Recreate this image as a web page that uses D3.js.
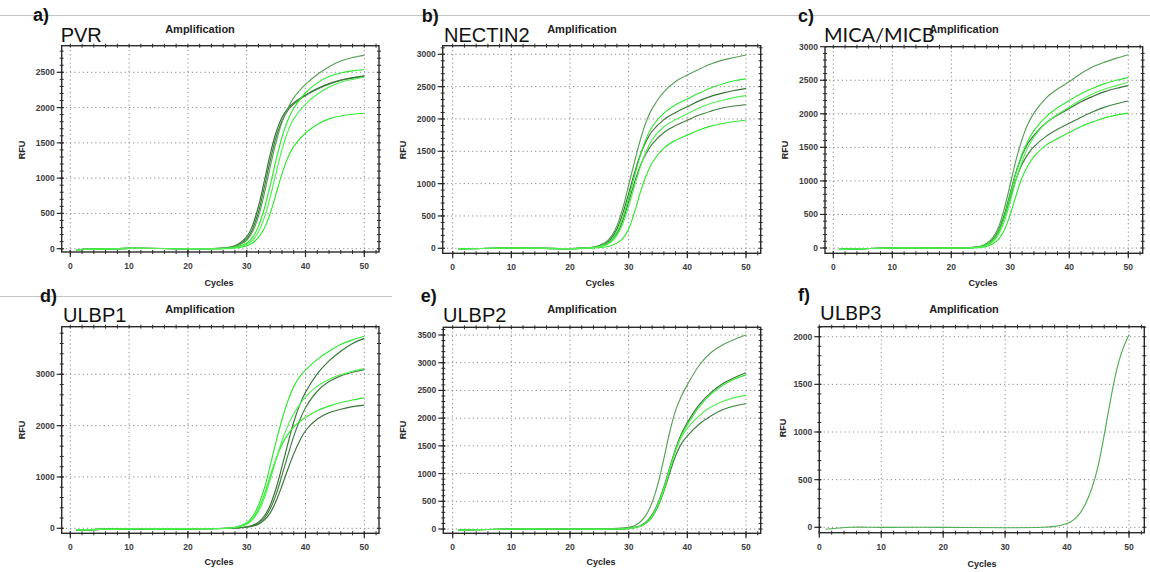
<!DOCTYPE html>
<html lang="en">
<head>
<meta charset="UTF-8"/>
<title>Amplification curves</title>
<script src="https://d3js.org/d3.v7.min.js"></script>
<style>
  body { margin: 0; background: #fff; }
  svg text { font-family: "Liberation Sans", Arial, sans-serif; }
</style>
</head>
<body>
<script>
    // ---- data (RFU per cycle) ----
    var pvrCycles = [1, 10, 20, 26, 28, 30, 31, 32, 33, 34, 35, 36, 37, 38, 40, 42, 44, 46, 48, 50];
    var pvrSeries = [
        [-15, 5, 0, 10, 40, 170, 330, 600, 960, 1340, 1650, 1860, 1990, 2070, 2180, 2270, 2340, 2390, 2425, 2450],
        [-15, 5, 0, 5, 30, 120, 240, 460, 780, 1160, 1510, 1790, 1990, 2140, 2330, 2470, 2580, 2660, 2710, 2740],
        [-15, 5, 0, 5, 20, 80, 160, 320, 570, 900, 1260, 1580, 1820, 1990, 2210, 2350, 2440, 2490, 2520, 2540],
        [-15, 5, 0, 5, 15, 60, 120, 240, 440, 730, 1070, 1400, 1660, 1840, 2050, 2190, 2290, 2360, 2400, 2430],
        [-15, 5, 0, 0, 10, 40, 80, 160, 290, 500, 780, 1060, 1290, 1450, 1640, 1760, 1840, 1880, 1905, 1920],
        [-15, 5, 0, 10, 35, 140, 280, 520, 870, 1250, 1580, 1810, 1960, 2050, 2170, 2260, 2330, 2385, 2415, 2440]
    ];

    var nectinCycles = [1, 10, 20, 22, 24, 26, 27, 28, 29, 30, 31, 32, 33, 34, 36, 38, 40, 42, 44, 46, 48, 50];
    var nectinSeries = [
        [-10, 5, -5, 5, 20, 90, 180, 350, 620, 980, 1340, 1680, 1960, 2160, 2420, 2580, 2680, 2770, 2850, 2910, 2950, 2990],
        [-10, 5, -5, 0, 10, 60, 120, 250, 470, 780, 1120, 1440, 1700, 1880, 2090, 2220, 2310, 2400, 2480, 2540, 2590, 2620],
        [-10, 5, -5, 0, 15, 70, 150, 300, 540, 850, 1170, 1450, 1660, 1810, 1990, 2100, 2190, 2280, 2350, 2400, 2440, 2470],
        [-10, 5, -5, 0, 10, 45, 95, 200, 380, 650, 960, 1260, 1500, 1680, 1880, 1990, 2080, 2170, 2240, 2290, 2330, 2360],
        [-10, 5, -5, 0, 10, 55, 110, 230, 430, 720, 1020, 1280, 1470, 1610, 1790, 1900, 1980, 2060, 2120, 2170, 2200, 2220],
        [-10, 5, -5, 0, 5, 20, 40, 80, 150, 300, 560, 870, 1130, 1320, 1550, 1670, 1750, 1830, 1890, 1930, 1960, 1980]
    ];

    var micCycles = [1, 10, 20, 22, 24, 25, 26, 27, 28, 29, 30, 31, 32, 33, 34, 36, 38, 40, 42, 44, 46, 48, 50];
    var micSeries = [
        [-20, 0, 0, 5, 15, 30, 70, 150, 310, 590, 950, 1320, 1620, 1850, 2010, 2230, 2370, 2480, 2600, 2700, 2770, 2830, 2880],
        [-20, 0, 0, 0, 10, 20, 50, 110, 240, 470, 800, 1130, 1400, 1600, 1750, 1950, 2090, 2200, 2300, 2380, 2450, 2500, 2540],
        [-20, 0, 0, 0, 5, 15, 40, 90, 200, 400, 700, 1020, 1290, 1500, 1650, 1860, 1990, 2100, 2210, 2300, 2370, 2420, 2470],
        [-20, 0, 0, 0, 10, 20, 50, 120, 260, 500, 820, 1140, 1380, 1560, 1680, 1860, 1980, 2080, 2180, 2260, 2330, 2380, 2420],
        [-20, 0, 0, 0, 10, 20, 45, 110, 240, 460, 750, 1030, 1250, 1400, 1510, 1660, 1770, 1860, 1950, 2030, 2100, 2150, 2190],
        [-20, 0, 0, 0, 5, 10, 25, 60, 130, 270, 500, 790, 1050, 1230, 1360, 1530, 1630, 1720, 1810, 1880, 1940, 1980, 2010]
    ];

    var ulbp1Cycles = [1, 10, 20, 28, 30, 31, 32, 33, 34, 35, 36, 37, 38, 39, 40, 42, 44, 46, 48, 50];
    var ulbp1Series = [
        [-30, -10, -10, 20, 110, 230, 450, 780, 1220, 1690, 2120, 2480, 2760, 2950, 3080, 3290, 3450, 3580, 3670, 3740],
        [-30, -10, -10, 5, 30, 60, 120, 240, 450, 780, 1200, 1650, 2070, 2400, 2650, 3010, 3260, 3450, 3600, 3700],
        [-30, -10, -10, 15, 80, 170, 330, 590, 950, 1340, 1700, 2000, 2230, 2410, 2560, 2770, 2900, 2990, 3060, 3110],
        [-30, -10, -10, 5, 25, 50, 100, 200, 380, 660, 1030, 1420, 1790, 2100, 2350, 2670, 2860, 2970, 3040, 3090],
        [-30, -10, -10, 15, 90, 190, 380, 660, 1020, 1360, 1630, 1830, 1970, 2080, 2160, 2290, 2380, 2450, 2500, 2540],
        [-30, -10, -10, 5, 20, 40, 80, 160, 300, 530, 830, 1150, 1450, 1700, 1900, 2130, 2250, 2320, 2370, 2400]
    ];

    var ulbp2Cycles = [1, 10, 20, 28, 30, 31, 32, 33, 34, 35, 36, 37, 38, 39, 40, 42, 44, 46, 48, 50];
    var ulbp2Series = [
        [-20, 0, 0, 10, 30, 60, 130, 260, 480, 820, 1270, 1750, 2140, 2400, 2600, 2950, 3180, 3320, 3420, 3500],
        [-20, 0, 0, 0, 10, 30, 60, 130, 260, 470, 760, 1110, 1450, 1720, 1920, 2240, 2460, 2620, 2730, 2820],
        [-20, 0, 0, 0, 10, 25, 50, 110, 220, 420, 700, 1060, 1410, 1690, 1880, 2200, 2430, 2590, 2700, 2780],
        [-20, 0, 0, 0, 10, 25, 55, 120, 240, 450, 740, 1090, 1420, 1660, 1820, 2040, 2200, 2300, 2370, 2410],
        [-20, 0, 0, 0, 10, 25, 50, 110, 220, 410, 680, 1010, 1320, 1540, 1680, 1890, 2040, 2150, 2220, 2260]
    ];

    var ulbp3Cycles = [1, 5, 10, 20, 30, 36, 38, 40, 41, 42, 43, 44, 45, 46, 47, 48, 49, 50];
    var ulbp3Series = [
        [-20, 0, 0, 0, -5, 0, 10, 40, 75, 140, 250, 410, 640, 970, 1330, 1650, 1870, 2020]
    ];

    // tick values
    var xTickValues = [0, 10, 20, 30, 40, 50];
    var pvrTicks = [0, 500, 1000, 1500, 2000, 2500];
    var nectinTicks = [0, 500, 1000, 1500, 2000, 2500, 3000];
    var micTicks = [0, 500, 1000, 1500, 2000, 2500, 3000];
    var ulbp1Ticks = [0, 1000, 2000, 3000];
    var ulbp2Ticks = [0, 500, 1000, 1500, 2000, 2500, 3000, 3500];
    var ulbp3Ticks = [0, 500, 1000, 1500, 2000];

    // ---- styles ----
    var dark = "#367336", dark2 = "#3f7f3f", mid = "#589f58", bright = "#30e830", bright2 = "#50f050";
    var pvrColors = [dark, mid, bright, bright2, bright, dark2];
    var nectinColors = [mid, bright, dark, bright2, dark2, bright];
    var micColors = [mid, bright, bright2, dark, dark2, bright];
    var ulbp1Colors = [bright, dark, bright2, dark2, bright, dark];
    var ulbp2Colors = [mid, dark, bright, bright2, dark2];
    var ulbp3Colors = ["#4caf50"];

    var panels = [
        {tag: "a)", gene: "PVR", cycles: pvrCycles, series: pvrSeries, colors: pvrColors, yTicks: pvrTicks,
         box: [61.7, 45.7, 379, 252], xPx: [70.3, 364.3], yPx: [248.7, 72.3], yRef: 2500,
         tagAt: [33, 21], geneAt: [60.7, 42.3], titleAt: [200, 33], rfuAt: [22, 150], cycAt: [219, 286]},
        {tag: "b)", gene: "NECTIN2", cycles: nectinCycles, series: nectinSeries, colors: nectinColors, yTicks: nectinTicks,
         box: [442.7, 45.7, 760.7, 253.3], xPx: [452.7, 746], yPx: [248.3, 54.3], yRef: 3000,
         tagAt: [421.7, 22], geneAt: [444, 42], titleAt: [582, 33], rfuAt: [403.3, 150], cycAt: [600, 286]},
        {tag: "c)", gene: "MICA/MICB", cycles: micCycles, series: micSeries, colors: micColors, yTicks: micTicks, alt: true,
         box: [825, 46.7, 1142.7, 253.3], xPx: [833.3, 1128.3], yPx: [248, 46.7], yRef: 3000,
         tagAt: [798, 22], geneAt: [824, 41.7], titleAt: [964, 33], rfuAt: [785, 150], cycAt: [983, 286]},
        {tag: "d)", gene: "ULBP1", cycles: ulbp1Cycles, series: ulbp1Series, colors: ulbp1Colors, yTicks: ulbp1Ticks,
         box: [61.7, 326.7, 379, 533.3], xPx: [70.3, 364.3], yPx: [528.3, 374.3], yRef: 3000,
         tagAt: [40, 301.7], geneAt: [63, 322.3], titleAt: [200, 313.3], rfuAt: [22, 430], cycAt: [219, 565]},
        {tag: "e)", gene: "ULBP2", cycles: ulbp2Cycles, series: ulbp2Series, colors: ulbp2Colors, yTicks: ulbp2Ticks,
         box: [443.3, 327.3, 760.7, 533.3], xPx: [452.7, 746], yPx: [529, 335], yRef: 3500,
         tagAt: [420.7, 301.7], geneAt: [443, 321.7], titleAt: [582, 313.3], rfuAt: [403, 430], cycAt: [601, 565]},
        {tag: "f)", gene: "ULBP3", cycles: ulbp3Cycles, series: ulbp3Series, colors: ulbp3Colors, yTicks: ulbp3Ticks, alt: true,
         box: [819.3, 326.7, 1144.3, 532.7], xPx: [819.3, 1129], yPx: [527.3, 336.7], yRef: 2000,
         tagAt: [798, 301], geneAt: [820, 320], titleAt: [964, 313], rfuAt: [783, 428], cycAt: [982, 567]}
    ];

    var svg = d3.select("body").append("svg")
        .attr("width", 1150)
        .attr("height", 572);

    // separator lines
    svg.append("line").attr("x1", 0).attr("x2", 1150).attr("y1", 15.5).attr("y2", 15.5)
        .attr("stroke", "#c4c4c4").attr("stroke-width", 1);
    svg.append("line").attr("x1", 0).attr("x2", 392).attr("y1", 296.5).attr("y2", 296.5)
        .attr("stroke", "#c4c4c4").attr("stroke-width", 1);

    panels.forEach(function(p, pi) {
        var l = p.box[0], t = p.box[1], r = p.box[2], b = p.box[3];
        var x = d3.scaleLinear().domain([0, 50]).range(p.xPx);
        var y = d3.scaleLinear().domain([0, p.yRef]).range(p.yPx);
        var g = svg.append("g");

        var major = p.yTicks[1] - p.yTicks[0];
        var yMin = y.invert(b), yMax = y.invert(t);
        var xMin = x.invert(l), xMax = x.invert(r);
        var minorY = d3.range(Math.ceil(yMin / (major / 5)) * (major / 5), yMax, major / 5);
        var minorX = d3.range(Math.ceil(xMin / 2) * 2, xMax, 2);

        // dotted grid
        g.selectAll(".gx").data(xTickValues).enter().append("line")
            .attr("x1", function(d) { return x(d); }).attr("x2", function(d) { return x(d); })
            .attr("y1", t).attr("y2", b)
            .attr("stroke", "#8a8a8a").attr("stroke-dasharray", "1.2,3").attr("stroke-width", 1);
        g.selectAll(".gy").data(p.yTicks).enter().append("line")
            .attr("x1", l).attr("x2", r)
            .attr("y1", function(d) { return y(d); }).attr("y2", function(d) { return y(d); })
            .attr("stroke", "#8a8a8a").attr("stroke-dasharray", "1.2,3").attr("stroke-width", 1);

        // curves, darker ones first so the bright ones sit on top
        var clipId = "clip" + pi;
        g.append("clipPath").attr("id", clipId).append("rect")
            .attr("x", l).attr("y", t).attr("width", r - l).attr("height", b - t);
        var line = d3.line()
            .x(function(d) { return x(d[0]); })
            .y(function(d) { return y(d[1]); })
            .curve(d3.curveCatmullRom.alpha(0.5));
        var order = d3.range(p.series.length).sort(function(i, j) {
            return d3.hsl(p.colors[i]).l - d3.hsl(p.colors[j]).l;
        });
        g.append("g").attr("clip-path", "url(#" + clipId + ")")
            .selectAll("path").data(order).enter().append("path")
            .attr("d", function(k) { return line(p.series[k].map(function(v, i) { return [p.cycles[i], v]; })); })
            .attr("fill", "none")
            .attr("stroke", function(k) { return p.colors[k]; })
            .attr("stroke-width", 1.15);

        // frame
        g.append("rect").attr("x", l).attr("y", t).attr("width", r - l).attr("height", b - t)
            .attr("fill", "none").attr("stroke", "#2a2a2a").attr("stroke-width", 1.4);

        // minor ticks on all four sides
        minorX.forEach(function(d) {
            [b, t].forEach(function(yy) {
                g.append("line").attr("x1", x(d)).attr("x2", x(d)).attr("y1", yy - 2).attr("y2", yy + 2)
                    .attr("stroke", "#2a2a2a").attr("stroke-width", 1);
            });
        });
        minorY.forEach(function(d) {
            [l, r].forEach(function(xx) {
                g.append("line").attr("x1", xx - 2).attr("x2", xx + 2).attr("y1", y(d)).attr("y2", y(d))
                    .attr("stroke", "#2a2a2a").attr("stroke-width", 1);
            });
        });
        // major ticks
        xTickValues.forEach(function(d) {
            g.append("line").attr("x1", x(d)).attr("x2", x(d)).attr("y1", b - 2).attr("y2", b + 5)
                .attr("stroke", "#2a2a2a").attr("stroke-width", 1.2);
        });
        p.yTicks.forEach(function(d) {
            g.append("line").attr("x1", l - 5).attr("x2", l + 2).attr("y1", y(d)).attr("y2", y(d))
                .attr("stroke", "#2a2a2a").attr("stroke-width", 1.2);
        });

        // tick labels
        g.selectAll(".xl").data(xTickValues).enter().append("text")
            .attr("x", function(d) { return x(d); }).attr("y", b + 17)
            .attr("text-anchor", "middle").attr("font-size", 8.5).attr("font-weight", "bold")
            .attr("fill", "#3c3c3c").text(function(d) { return d; });
        g.selectAll(".yl").data(p.yTicks).enter().append("text")
            .attr("x", l - 7).attr("y", function(d) { return y(d); }).attr("dy", "0.35em")
            .attr("text-anchor", "end").attr("font-size", 8.5).attr("font-weight", "bold")
            .attr("fill", "#3c3c3c").text(function(d) { return d; });

        // titles and labels
        g.append("text").attr("x", p.tagAt[0]).attr("y", p.tagAt[1])
            .attr("font-size", 18).attr("font-weight", "bold").attr("fill", "#111").text(p.tag);
        g.append("text").attr("x", p.geneAt[0]).attr("y", p.geneAt[1])
            .attr("font-size", 20).attr("fill", "#111")
            .style("font-family", p.alt ? "Lato, 'Open Sans', sans-serif" : null)
            .text(p.gene);
        g.append("text").attr("x", p.titleAt[0]).attr("y", p.titleAt[1])
            .attr("text-anchor", "middle").attr("font-size", 11).attr("font-weight", "bold")
            .attr("fill", "#222").text("Amplification");
        g.append("text").attr("transform", "translate(" + p.rfuAt[0] + "," + p.rfuAt[1] + ") rotate(-90)")
            .attr("text-anchor", "middle").attr("dy", "0.35em").attr("font-size", 9).attr("font-weight", "bold")
            .attr("fill", "#222").text("RFU");
        g.append("text").attr("x", p.cycAt[0]).attr("y", p.cycAt[1])
            .attr("text-anchor", "middle").attr("font-size", 9).attr("font-weight", "bold")
            .attr("fill", "#222").text("Cycles");
    });
</script>
</body>
</html>
